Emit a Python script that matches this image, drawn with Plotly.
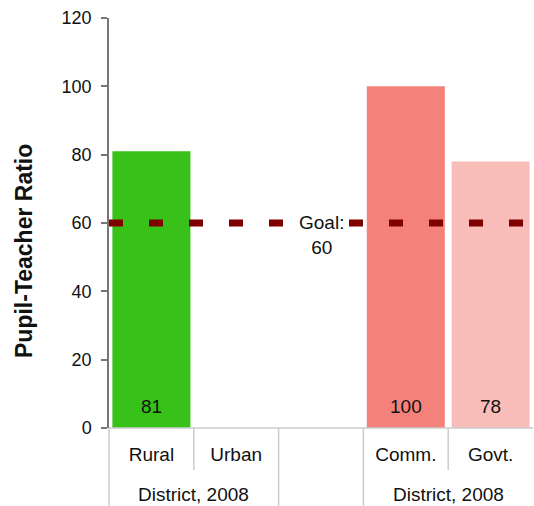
import plotly.graph_objects as go

# ---- data ----
categories = ["Rural", "Urban", " ", "Comm.", "Govt."]
values = [81, None, None, 100, 78]
bar_colors = ["#38C118", "#FFFFFF", "#FFFFFF", "#F4827A", "#F9BDB9"]
group_labels = ["District, 2008", "District, 2008"]
group_centers = [0.5, 3.5]          # category-index centres of the two groups
inner_dividers = [0.5, 3.5]
outer_dividers = [1.5, 2.5]
goal = 60
goal_label = "Goal:<br>60"
y_ticks = [0, 20, 40, 60, 80, 100, 120]
y_title = "Pupil-Teacher Ratio"

FONT = "Liberation Sans, Arial, sans-serif"
W, H = 534, 506
ML, MR, MT, MB = 109, 1, 18, 78
plot_h = H - MT - MB

fig = go.Figure()
fig.add_trace(go.Bar(
    x=categories, y=values,
    marker=dict(color=bar_colors, line=dict(width=0)),
    width=0.92,
    hoverinfo="skip",
))

shapes = []
# goal line
shapes.append(dict(type="line", xref="paper", yref="y", x0=0, x1=1, y0=goal, y1=goal,
                   line=dict(color="#800000", width=7, dash="14px,26px"), layer="above"))
# table lines
tbl = "#CCCCCC"
full = -MB / plot_h
half = -42 / plot_h
shapes.append(dict(type="line", xref="paper", yref="paper", x0=0, x1=1, y0=0, y1=0,
                   line=dict(color=tbl, width=1.5)))
shapes.append(dict(type="line", xref="paper", yref="paper", x0=0, x1=0, y0=0, y1=full,
                   line=dict(color=tbl, width=1.5)))
for d in inner_dividers:
    shapes.append(dict(type="line", xref="x", yref="paper", x0=d, x1=d, y0=0, y1=half,
                       line=dict(color=tbl, width=1.5)))
for d in outer_dividers:
    shapes.append(dict(type="line", xref="x", yref="paper", x0=d, x1=d, y0=0, y1=full,
                       line=dict(color=tbl, width=1.5)))

annotations = []
# value labels at the base of each bar
for c, v in zip(categories, values):
    if v is not None:
        annotations.append(dict(x=c, y=0, xref="x", yref="y", text=str(v), showarrow=False,
                                yanchor="middle", yshift=22,
                                font=dict(family=FONT, size=19, color="#111111")))
annotations.append(dict(x=2, y=goal, xref="x", yref="y", text=goal_label, showarrow=False,
                        yanchor="top", yshift=13, bgcolor="#FFFFFF",
                        font=dict(family=FONT, size=19, color="#111111")))
for lbl, c in zip(group_labels, group_centers):
    annotations.append(dict(x=c, y=-(495 - (H - MB)) / plot_h, xref="x", yref="paper",
                            text=lbl, showarrow=False, yanchor="middle",
                            font=dict(family=FONT, size=19, color="#111111")))
annotations.append(dict(x=(24 - ML) / (W - ML - MR), y=((H - MB) - 251) / plot_h,
                        xref="paper", yref="paper", text="<b>" + y_title + "</b>",
                        textangle=-90, showarrow=False, xanchor="center", yanchor="middle",
                        font=dict(family=FONT, size=23, color="#111111")))

fig.update_layout(
    width=W, height=H,
    margin=dict(l=ML, r=MR, t=MT, b=MB, pad=0),
    paper_bgcolor="white", plot_bgcolor="white",
    showlegend=False, bargap=0.08,
    shapes=shapes, annotations=annotations,
    xaxis=dict(type="category", range=[-0.5, 4.5], showgrid=False, zeroline=False,
               showline=False, ticks="", ticklabelstandoff=13,
               tickfont=dict(family=FONT, size=19, color="#111111"), fixedrange=True),
    yaxis=dict(range=[0, 120], tickvals=y_ticks, showgrid=False, zeroline=False,
               showline=True, linecolor="#777777", linewidth=1.5,
               ticks="outside", ticklen=6, tickcolor="#777777", tickwidth=1.5,
               ticklabelstandoff=6,
               tickfont=dict(family=FONT, size=18, color="#111111"), fixedrange=True),
)

fig.write_html("out.html")
